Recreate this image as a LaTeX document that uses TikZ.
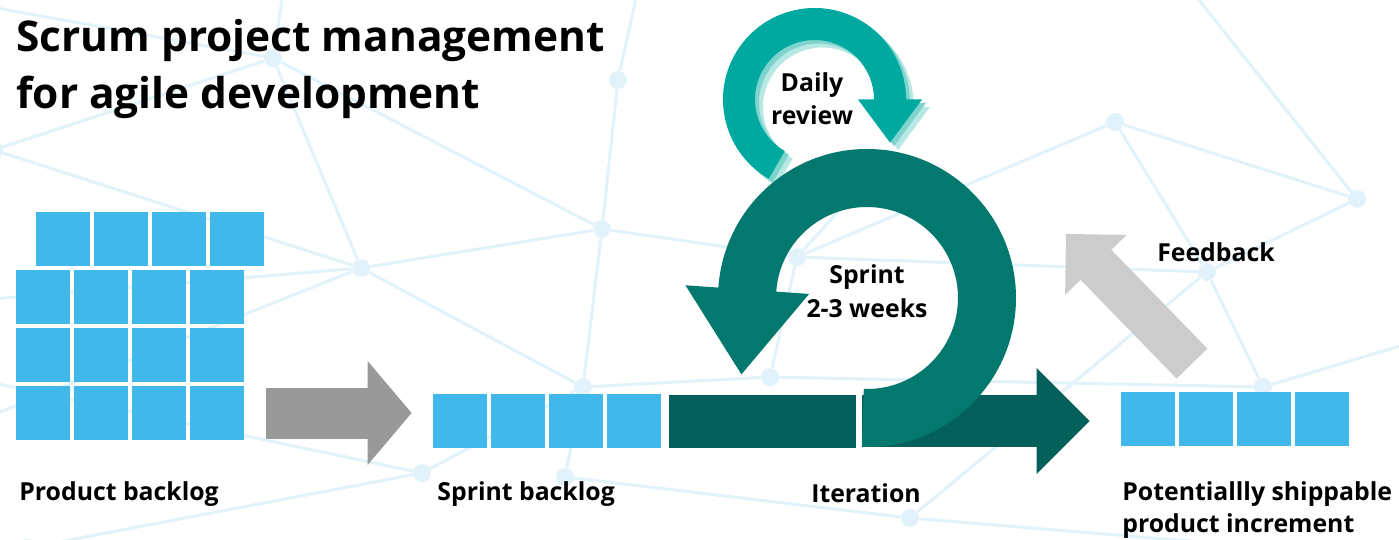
\documentclass[tikz,border=0pt]{standalone}
\usepackage{fontspec}
\setmainfont{Open Sans}
\usetikzlibrary{arrows.meta}

\definecolor{sqblue}{HTML}{41B8EA}
\definecolor{netblue}{HTML}{E1F2FA}
\definecolor{arrgray}{HTML}{999999}
\definecolor{fbgray}{HTML}{CCCCCC}
\definecolor{sprintc}{HTML}{02786E}
\definecolor{iterc}{HTML}{03605A}
\definecolor{dailyc}{HTML}{00A99F}
\definecolor{dailym}{HTML}{7ED4CD}
\definecolor{dailyl}{HTML}{B7E8E4}

\begin{document}
\begin{tikzpicture}[
  x=0.5pt, y=-0.5pt,
  font=\bfseries\fontsize{12.4}{16}\selectfont,
  sq/.style={fill=sqblue, minimum size=27pt, inner sep=0pt},
  bar/.style={fill=iterc, minimum width=93.5pt, minimum height=26.5pt, inner sep=0pt},
  lbl/.style={inner sep=0pt, align=left},
  dot/.style={circle, fill=netblue, minimum size=9pt, inner sep=0pt},
  net/.style={draw=netblue, line width=1.5pt},
  grayarr/.style={draw=arrgray, line width=25.5pt,
                  -{Triangle[length=22pt,width=52pt,line width=0pt]}},
  iterarr/.style={draw=iterc, line width=26pt,
                  -{Triangle[length=26.5pt,width=53pt,line width=0pt]}},
  fbarr/.style={draw=fbgray, line width=21.5pt,
                -{Triangle[length=21.5pt,width=43pt,line width=0pt]}},
  daily/.style={insert path={(120:91.5) arc[start angle=120, end angle=360, radius=91.5]
      -- (0:107.5) -- (29.7:86.9) -- (0:43.5) -- (0:59.5)
      arc[start angle=360, end angle=120, radius=59.5] -- cycle}},
  sprint/.style={insert path={(92:149) arc[start angle=92, end angle=-176, radius=149]
      -- (-176:182) -- (-211.3:147) -- (-176:58) -- (-176:91)
      arc[start angle=-176, end angle=92, radius=91] -- cycle}}
]
\useasboundingbox (0,0) rectangle (1399,540);

% background network
\begin{scope}
\clip (0,0) rectangle (1399,540);
\node[dot] (n1) at (273,58) {};
\node[dot] (n2) at (618,80) {};
\node[dot] (n3) at (-6,150) {};
\node[dot] (n4) at (361,268) {};
\node[dot] (n5) at (602,229) {};
\node[dot] (n6) at (583,387) {};
\node[dot] (n7) at (422,473) {};
\node[dot] (n8) at (565,477) {};
\node[dot] (n9) at (770,377) {};
\node[dot] (n10) at (797,257) {};
\node[dot] (n11) at (887,158) {};
\node[dot] (n12) at (1115,122) {};
\node[dot] (n13) at (1357,199) {};
\node[dot] (n14) at (1207,272) {};
\node[dot] (n15) at (910,518) {};
\node[dot] (n16) at (1263,387) {};
\node[dot] (n17) at (27,548) {};
\coordinate (o1) at (-20,5);
\coordinate (o2) at (285,-20);
\coordinate (o3) at (640,-20);
\coordinate (o4) at (-20,300);
\coordinate (o5) at (-20,420);
\coordinate (o6) at (1183,-20);
\coordinate (o7) at (1420,340);
\coordinate (o8) at (1420,560);
\coordinate (o9) at (-20,380);

\draw[net] (n1) -- (o1);
\draw[net] (n1) -- (o2);
\draw[net] (n1) -- (n3);
\draw[net] (n1) -- (n4);
\draw[net] (n1) -- (n5);
\draw[net] (n2) -- (o3);
\draw[net] (n2) -- (n5);
\draw[net] (n3) -- (n4);
\draw[net] (n4) -- (n5);
\draw[net] (n4) -- (n6);
\draw[net] (n4) -- (o4);
\draw[net] (n4) -- (o5);
\draw[net] (n5) -- (n6);
\draw[net] (n5) -- (n10);
\draw[net] (n6) -- (n7);
\draw[net] (n6) -- (n8);
\draw[net] (n6) -- (n9);
\draw[net] (n7) -- (o9);
\draw[net] (n7) -- (n17);
\draw[net] (n8) -- (n15);
\draw[net] (n9) -- (n10);
\draw[net] (n9) -- (n16);
\draw[net] (n10) -- (n11);
\draw[net] (n10) -- (n12);
\draw[net] (n10) -- (n14);
\draw[net] (n12) -- (n13);
\draw[net] (n12) -- (n14);
\draw[net] (n13) -- (o6);
\draw[net] (n13) -- (n14);
\draw[net] (n14) -- (n16);
\draw[net] (n14) -- (n15);
\draw[net] (n15) -- (o8);
\draw[net] (n16) -- (o7);
\end{scope}

% title (base = last line)
\node[lbl, anchor=base west, font=\bfseries\fontsize{21.2}{28.5}\selectfont]
  (title) at (16,109) {Scrum project management\\for agile development};

% product backlog
\node[sq] (p1) at (62.5,239) {};
\node[sq] (p2) at (120.5,239) {};
\node[sq] (p3) at (178.5,239) {};
\node[sq] (p4) at (236.5,239) {};
\node[sq] (p5) at (43,297) {};
\node[sq] (p6) at (101,297) {};
\node[sq] (p7) at (159,297) {};
\node[sq] (p8) at (217,297) {};
\node[sq] (p9) at (43,355) {};
\node[sq] (p10) at (101,355) {};
\node[sq] (p11) at (159,355) {};
\node[sq] (p12) at (217,355) {};
\node[sq] (p13) at (43,413) {};
\node[sq] (p14) at (101,413) {};
\node[sq] (p15) at (159,413) {};
\node[sq] (p16) at (217,413) {};

% sprint backlog
\node[sq] (s1) at (460,420.5) {};
\node[sq] (s2) at (518,420.5) {};
\node[sq] (s3) at (576,420.5) {};
\node[sq] (s4) at (634,420.5) {};

% increment
\node[sq] (v1) at (1148,419) {};
\node[sq] (v2) at (1206,419) {};
\node[sq] (v3) at (1264,419) {};
\node[sq] (v4) at (1322,419) {};

\draw[grayarr, shorten <=11pt, shorten >=10.5pt] (p16.east) -- (p16.east -| s1.west);
\coordinate (fb) at (1066,234);
\draw[fbarr] ([xshift=-7pt,yshift=14pt]v2.north) -- (fb);

% daily review loop
\fill[dailyl, shift={(822.5,107)}, daily];
\fill[dailym, shift={(818.5,103)}, daily];
\fill[dailyc, shift={(814.5,99.5)}, daily];

% iteration
\node[bar] (it) at (762.5,421) {};
\draw[iterarr, shorten <=3pt, shorten >=15.5pt] (it.east) -- (it.east -| v1.west);

% sprint loop
\fill[sprintc, shift={(867,298)}, sprint];

% labels
\node[lbl, anchor=base west] (lpb) at (19,500) {Product backlog};
\node[lbl, anchor=base west] (lsb) at (437,500) {Sprint backlog};
\node[lbl, anchor=base] (lit) at (866,502) {Iteration};
\node[lbl, anchor=base west] (lpi) at (1122,532) {Potentiallly shippable\\product increment};
\node[lbl, anchor=base, align=center, font=\bfseries\fontsize{12.4}{17}\selectfont]
  (lsp) at (867,317) {Sprint\\2-3 weeks};
\node[lbl, anchor=base, align=center, font=\bfseries\fontsize{12.4}{16.5}\selectfont]
  (ldr) at (812,125) {Daily\\review};
\node[lbl, anchor=base] (lfb) at (1216,262) {Feedback};
\end{tikzpicture}
\end{document}
